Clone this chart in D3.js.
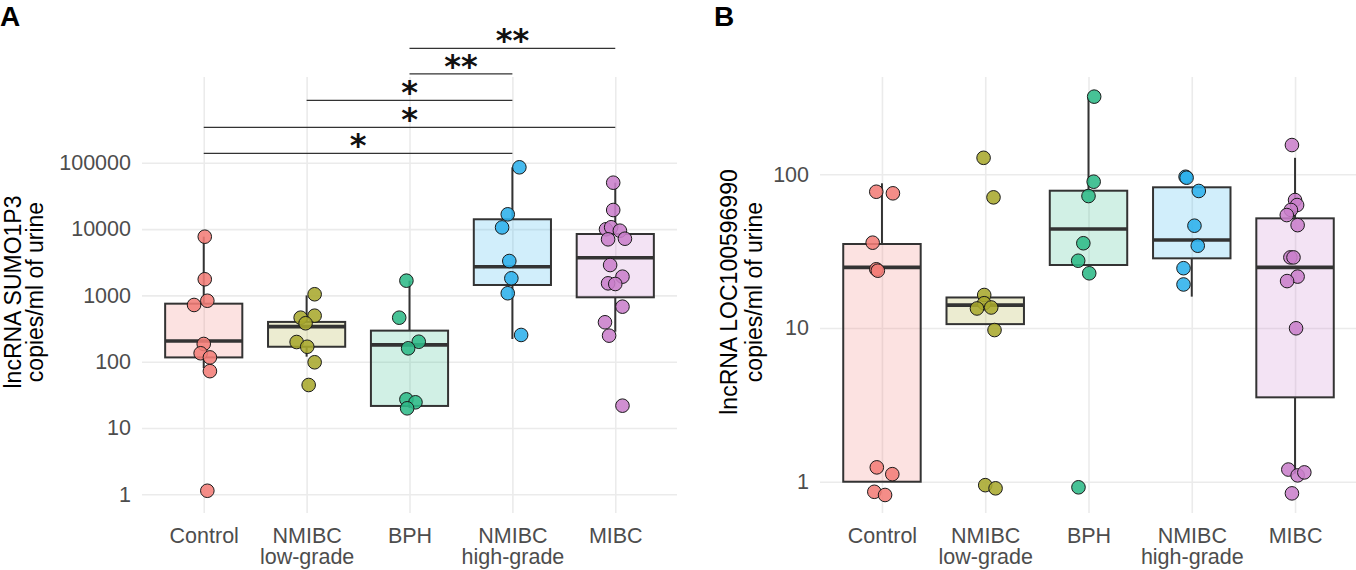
<!DOCTYPE html>
<html>
<head>
<meta charset="utf-8">
<script src="https://cdn.jsdelivr.net/npm/d3@7"></script>
<style>
  body { margin: 0; background: #fff; }
  svg { display: block; font-family: "Liberation Sans", Arial, sans-serif; }
</style>
</head>
<body>
<div id="root"></div>
<script>
// categories and their two-line tick labels
const groups = ["Control", "NMIBC low-grade", "BPH", "NMIBC high-grade", "MIBC"];
const tickLines = [["Control"], ["NMIBC", "low-grade"], ["BPH"], ["NMIBC", "high-grade"], ["MIBC"]];
const groupColors = ["#F37D78", "#A8A82E", "#2DBA87", "#2CB0EC", "#C97FCB"];

// panel A: lncRNA SUMO1P3 (copies/ml)
const sumoTicks = [1, 10, 100, 1000, 10000, 100000];
const sumoValues = [
  [7680, 1750, 830, 717, 185, 134, 116, 72, 1.13],
  [1040, 461, 494, 380, 198, 168, 98, 44.5],
  [1667, 461, 200, 159, 27, 24.4, 19.8],
  [85500, 16700, 10600, 3300, 1810, 1077, 253],
  [50100, 19400, 9930, 10650, 9460, 7010, 7160, 2870, 1915, 1520, 1486, 676, 393, 247, 21.7],
];
const sumoJitter = [
  [0.01, 0.01, 0.035, -0.094, 0, -0.03, 0.06, 0.06, 0.035],
  [0.078, -0.058, 0.078, -0.01, -0.097, 0.006, 0.078, 0.02],
  [-0.03, -0.1, 0.09, -0.013, -0.03, 0.058, -0.023],
  [0.068, -0.045, -0.1, -0.03, -0.01, -0.045, 0.085],
  [-0.02, -0.02, -0.09, -0.04, 0.045, -0.07, 0.094, -0.05, 0.07, -0.07, 0, 0.07, -0.1, -0.06, 0.07],
];
const sumoQ1 = [116, 168, 21.5, 1435, 936];
const sumoMedian = [205, 338, 179, 2710, 3700];
const sumoQ3 = [750, 398, 294, 14060, 8430];
const sumoLower = [80, 119, 20, 220, 283];
const sumoUpper = [7680, 1000, 1667, 85500, 50100];

// significance brackets on panel A
const sigFrom = ["BPH", "BPH", "NMIBC low-grade", "Control", "Control"];
const sigTo = ["MIBC", "NMIBC high-grade", "NMIBC high-grade", "MIBC", "NMIBC high-grade"];
const sigLabels = ["**", "**", "*", "*", "*"];
const sigLevels = [5.33e6, 2.19e6, 8.71e5, 3.43e5, 1.39e5];

// panel B: lncRNA LOC100596990 (copies/ml)
const locTicks = [1, 10, 100];
const locValues = [
  [77, 75.2, 35.9, 24.1, 23.6, 1.24, 1.12, 0.86, 0.82],
  [128, 70.8, 16.4, 14.5, 13.4, 13.6, 9.7, 0.95, 0.906],
  [320, 89.5, 72.2, 35.6, 27.4, 22.7, 0.92],
  [96.4, 95, 77.9, 46.3, 34.3, 24.5, 19.2],
  [155, 68, 63.1, 58.6, 54.3, 46.7, 28.8, 28.8, 21.6, 20.2, 9.96, 1.2, 1.1, 1.15, 0.84],
];
const locJitter = [
  [-0.055, 0.106, -0.09, -0.055, -0.04, -0.05, 0.1, -0.074, 0.03],
  [-0.016, 0.08, -0.01, -0.01, -0.08, 0.058, 0.09, 0, 0.1],
  [0.055, 0.05, 0, -0.05, -0.1, 0.007, -0.097],
  [-0.06, -0.05, 0.068, 0.026, 0.058, -0.08, -0.08],
  [-0.03, 0, 0.02, -0.04, -0.08, 0.025, -0.045, -0.015, 0.025, -0.077, 0.01, -0.065, 0.025, 0.09, -0.03],
];
const locQ1 = [1.0, 10.6, 25.7, 28.4, 3.54];
const locMedian = [24.8, 14.1, 44.1, 37.4, 24.8];
const locQ3 = [35.2, 15.8, 78.2, 82.3, 51.7];
const locLower = [1.0, 10.6, 25.7, 16, 1.13];
const locUpper = [87.4, 15.8, 312, 82.3, 128];

const width = 1356;
const height = 570;
const plotTop = 77;
const plotBottom = 513;
const ink = "#333333";
const tickColor = "#4D4D4D";
const fontStack = "Liberation Sans, Arial, sans-serif";

const svg = d3.select("#root").append("svg")
  .attr("width", width)
  .attr("height", height);

function drawPanel(p) {
  const x = d3.scalePoint(groups, [p.left, p.right]).padding(0.6);
  const y = d3.scaleLog(p.yDomain, [plotBottom, plotTop]);
  const boxWidth = x.step() * 0.75;
  const g = svg.append("g");

  g.append("g")
    .attr("transform", `translate(${p.left},0)`)
    .call(d3.axisLeft(y)
      .tickValues(p.yTicks)
      .tickFormat(d3.format("d"))
      .tickSize(-(p.right - p.left))
      .tickPadding(11))
    .call(a => a.select(".domain").remove())
    .call(a => a.selectAll(".tick line").attr("stroke", "#EBEBEB").attr("stroke-width", 1.6))
    .call(a => a.selectAll(".tick text")
      .attr("fill", tickColor)
      .attr("font-size", 21.5)
      .attr("font-family", fontStack));

  g.append("g")
    .attr("transform", `translate(0,${plotBottom})`)
    .call(d3.axisBottom(x).tickSize(-(plotBottom - plotTop)))
    .call(a => a.select(".domain").remove())
    .call(a => a.selectAll(".tick line").attr("stroke", "#EBEBEB").attr("stroke-width", 1.6))
    .call(a => a.selectAll(".tick text")
      .text(null)
      .attr("y", null)
      .attr("dy", null)
      .attr("fill", tickColor)
      .attr("font-size", 21.5)
      .attr("font-family", fontStack)
      .selectAll("tspan")
      .data(d => tickLines[groups.indexOf(d)])
      .join("tspan")
      .attr("x", 0)
      .attr("y", (d, i) => 30 + i * 21)
      .text(d => d));

  const boxes = g.append("g")
    .selectAll("g")
    .data(groups)
    .join("g");

  boxes.append("line")
    .attr("x1", d => x(d))
    .attr("x2", d => x(d))
    .attr("y1", (d, i) => y(p.q3[i]))
    .attr("y2", (d, i) => y(p.upper[i]))
    .attr("stroke", ink)
    .attr("stroke-width", 2);

  boxes.append("line")
    .attr("x1", d => x(d))
    .attr("x2", d => x(d))
    .attr("y1", (d, i) => y(p.q1[i]))
    .attr("y2", (d, i) => y(p.lower[i]))
    .attr("stroke", ink)
    .attr("stroke-width", 2);

  boxes.append("rect")
    .attr("x", d => x(d) - boxWidth / 2)
    .attr("width", boxWidth)
    .attr("y", (d, i) => y(p.q3[i]))
    .attr("height", (d, i) => y(p.q1[i]) - y(p.q3[i]))
    .attr("fill", (d, i) => groupColors[i])
    .attr("fill-opacity", 0.22)
    .attr("stroke", ink)
    .attr("stroke-width", 2);

  boxes.append("line")
    .attr("x1", d => x(d) - boxWidth / 2)
    .attr("x2", d => x(d) + boxWidth / 2)
    .attr("y1", (d, i) => y(p.median[i]))
    .attr("y2", (d, i) => y(p.median[i]))
    .attr("stroke", ink)
    .attr("stroke-width", 3.6);

  const points = groups.flatMap((grp, i) => p.values[i].map((v, j) => ({
    group: grp,
    index: i,
    value: v,
    jitter: p.jitter[i][j],
  })));

  g.append("g")
    .selectAll("circle")
    .data(points)
    .join("circle")
    .attr("cx", d => x(d.group) + d.jitter * x.step())
    .attr("cy", d => y(d.value))
    .attr("r", 6.8)
    .attr("fill", d => groupColors[d.index])
    .attr("fill-opacity", 0.88)
    .attr("stroke", "#1a1a1a")
    .attr("stroke-width", 1);

  const title = g.append("text")
    .attr("transform", `translate(${p.titleX},${(plotTop + plotBottom) / 2 - 3}) rotate(-90)`)
    .attr("text-anchor", "middle")
    .attr("font-size", 23)
    .attr("fill", "#000");
  title.selectAll("tspan")
    .data(p.title)
    .join("tspan")
    .attr("x", 0)
    .attr("y", (d, i) => i * p.titleGap)
    .text(d => d);

  svg.append("text")
    .attr("x", p.letterX)
    .attr("y", 26)
    .attr("font-size", 28)
    .attr("font-weight", "bold")
    .attr("fill", "#000")
    .text(p.letter);

  return { x, y, g };
}

const panelA = drawPanel({
  left: 142,
  right: 677,
  yDomain: [0.522, 1.968e6],
  yTicks: sumoTicks,
  values: sumoValues,
  jitter: sumoJitter,
  q1: sumoQ1,
  median: sumoMedian,
  q3: sumoQ3,
  lower: sumoLower,
  upper: sumoUpper,
  title: ["lncRNA SUMO1P3", "copies/ml of urine"],
  titleX: 21,
  titleGap: 22,
  letter: "A",
  letterX: 0,
});

drawPanel({
  left: 820,
  right: 1357,
  yDomain: [0.626, 429.5],
  yTicks: locTicks,
  values: locValues,
  jitter: locJitter,
  q1: locQ1,
  median: locMedian,
  q3: locQ3,
  lower: locLower,
  upper: locUpper,
  title: ["lncRNA LOC100596990", "copies/ml of urine"],
  titleX: 737,
  titleGap: 25,
  letter: "B",
  letterX: 714,
});

// significance brackets
const sig = sigLabels.map((label, i) => ({
  from: sigFrom[i],
  to: sigTo[i],
  label,
  level: sigLevels[i],
}));

const brackets = panelA.g.append("g")
  .selectAll("g")
  .data(sig)
  .join("g");

brackets.append("line")
  .attr("x1", d => panelA.x(d.from))
  .attr("x2", d => panelA.x(d.to))
  .attr("y1", d => panelA.y(d.level))
  .attr("y2", d => panelA.y(d.level))
  .attr("stroke", ink)
  .attr("stroke-width", 1.2);

brackets.append("text")
  .attr("x", d => (panelA.x(d.from) + panelA.x(d.to)) / 2)
  .attr("y", d => panelA.y(d.level) + 3)
  .attr("text-anchor", "middle")
  .attr("font-family", "DejaVu Sans, sans-serif")
  .attr("font-weight", "bold")
  .attr("font-size", 32)
  .attr("fill", "#111")
  .text(d => d.label);
</script>
</body>
</html>
